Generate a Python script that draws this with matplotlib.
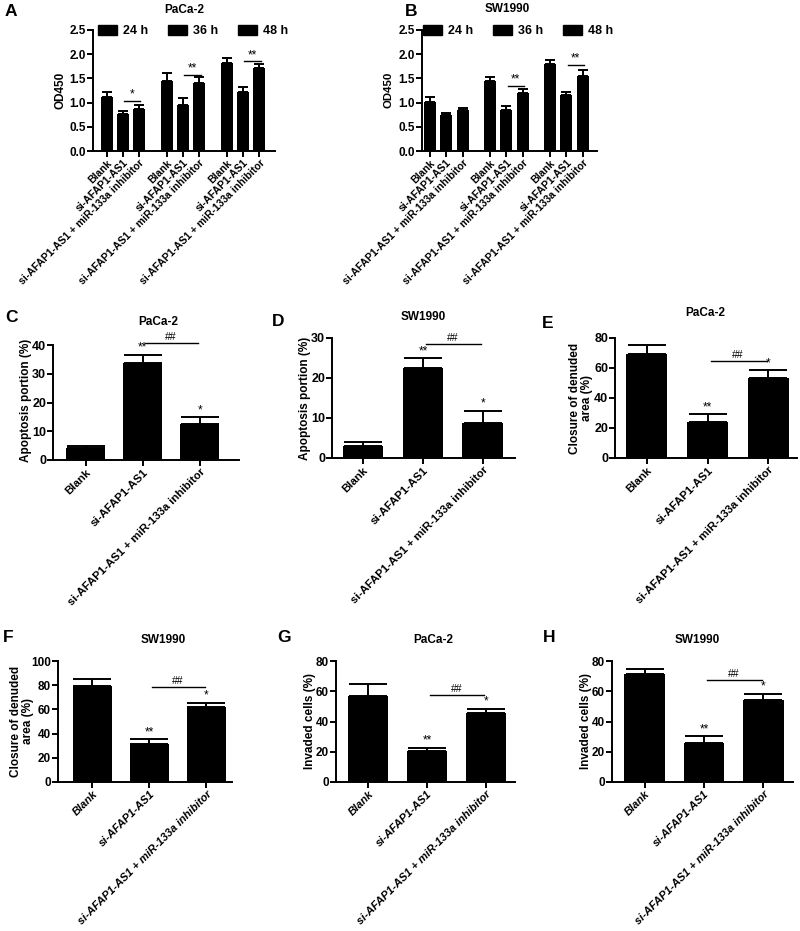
import matplotlib
matplotlib.use("Agg")
import matplotlib.pyplot as plt
from matplotlib.patches import Patch
import numpy as np

plt.rcParams['font.family'] = ['Liberation Sans', 'DejaVu Sans']
plt.rcParams['font.weight'] = 'bold'

W, H = 800, 931
fig = plt.figure(figsize=(W / 100, H / 100), dpi=100)

conds = ["Blank", "si-AFAP1-AS1", "si-AFAP1-AS1 + miR-133a inhibitor"]
times = ["24 h", "36 h", "48 h"]

# Panel A (PaCa-2, OD450) - rows: time groups, cols: conditions
a_vals = [[1.11, 0.755, 0.865], [1.45, 0.955, 1.415], [1.82, 1.22, 1.72]]
a_errs = [[0.11, 0.065, 0.09], [0.16, 0.15, 0.105], [0.10, 0.10, 0.08]]
a_sig = [("*", 1.04), ("**", 1.58), ("**", 1.85)]
# Panel B (SW1990, OD450)
b_vals = [[1.02, 0.745, 0.84], [1.456, 0.84, 1.20], [1.80, 1.16, 1.55]]
b_errs = [[0.10, 0.05, 0.045], [0.065, 0.08, 0.08], [0.07, 0.055, 0.125]]
b_sig = [None, ("**", 1.35), ("**", 1.785)]

# Three-bar panels
c_vals, c_errs, c_hash = [4.1, 33.8, 12.4], [0.9, 2.7, 2.4], 40.8
d_vals, d_errs, d_hash = [3.1, 22.5, 8.75], [0.9, 2.4, 3.05], 28.5
e_vals, e_errs, e_hash = [69.6, 24.0, 53.6], [5.5, 5.1, 4.8], 64.7
f_vals, f_errs, f_hash = [79.0, 31.8, 61.8], [6.0, 3.6, 3.6], 78.5
g_vals, g_errs, g_hash = [56.8, 20.5, 45.3], [8.0, 2.0, 3.0], 57.6
h_vals, h_errs, h_hash = [71.3, 25.5, 54.0], [3.5, 4.8, 4.3], 67.2

LW = 1.4


def add_ax(x0, x1, ytop, ybot):
    return fig.add_axes([x0 / W, 1 - ybot / H, (x1 - x0) / W, (ybot - ytop) / H])


def ftext(x, y, s, **kw):
    fig.text(x / W, 1 - y / H, s, **kw)


def style(ax, ylim, yticks, fmt, ytick_fs):
    for s in ["top", "right"]:
        ax.spines[s].set_visible(False)
    for s in ["left", "bottom"]:
        ax.spines[s].set_linewidth(LW)
    ax.set_ylim(*ylim)
    ax.set_yticks(yticks)
    ax.set_yticklabels([fmt.format(v) for v in yticks], fontsize=ytick_fs, fontweight='bold')
    ax.tick_params(axis='both', direction='out', length=4, width=LW, pad=1.0)


def grouped(ax, vals, errs, sigs, ylim_top, xl):
    off = 0.27
    w = 0.2
    xs, labels = [], []
    for g in range(3):
        for k in range(3):
            x = g + (k - 1) * off
            ax.bar(x, vals[g][k], width=w, color='black', zorder=2)
            ax.errorbar(x, vals[g][k], yerr=[[0], [errs[g][k]]], fmt='none',
                        ecolor='black', elinewidth=LW, capsize=3.5, capthick=LW, zorder=1)
            xs.append(x)
            labels.append(conds[k])
        if sigs[g] is not None:
            mark, yl = sigs[g]
            ax.plot([g + 0.02, g + off + 0.02], [yl, yl], color='black', lw=1.0, clip_on=False)
            ax.text(g + off / 2 + 0.02, yl, mark, ha='center', va='bottom', fontsize=8.5,
                    fontweight='normal')
    ax.set_xticks(xs)
    ax.set_xticklabels(labels, rotation=45, ha='right', rotation_mode='anchor',
                       fontsize=7.5, fontweight='bold')
    ax.set_xlim(*xl)
    style(ax, (0, ylim_top), np.arange(0, 2.51, 0.5), "{:.1f}", 8.5)
    handles = [Patch(facecolor='black', edgecolor='black', label=t) for t in times]
    ax.legend(handles=handles, ncol=3, loc='center', bbox_to_anchor=(0.55, 0.99),
              frameon=False, handlelength=1.5, handleheight=0.85,
              columnspacing=1.6, handletextpad=0.5, prop={'weight': 'bold', 'size': 9})


def three(ax, vals, errs, hash_y, ymax, step, italic, tick_fs, lab_fs, xl, cap=14):
    xs = np.arange(3)
    ax.bar(xs, vals, width=0.68, color='black', zorder=2)
    ax.errorbar(xs, vals, yerr=[np.zeros(3), errs], fmt='none', ecolor='black',
                elinewidth=LW, capsize=cap, capthick=LW, zorder=1)
    ax.set_xticks(xs)
    ax.set_xticklabels(conds, rotation=45, ha='right', rotation_mode='anchor',
                       fontsize=lab_fs, fontweight='bold',
                       fontstyle='italic' if italic else 'normal')
    ax.set_xlim(*xl)
    style(ax, (0, ymax), np.arange(0, ymax + 0.1, step), "{:.0f}", tick_fs)
    span = ymax
    ax.text(1, vals[1] + errs[1] + 0.01 * span, "**", ha='center', va='bottom',
            fontsize=8.5, fontweight='normal')
    ax.text(2, vals[2] + errs[2] + 0.01 * span, "*", ha='center', va='bottom',
            fontsize=8.5, fontweight='normal')
    ax.plot([1.05, 1.97], [hash_y, hash_y], color='black', lw=1.0, clip_on=False)
    ax.text(1.5, hash_y + 0.01 * span, "##", ha='center', va='bottom', fontsize=7.5,
            fontweight='normal')


# ---------- Row 1 ----------
axA = add_ax(93, 275, 30, 151)
grouped(axA, a_vals, a_errs, a_sig, 2.5, (-0.5, 2.53))
axB = add_ax(422, 597, 30, 151)
grouped(axB, b_vals, b_errs, b_sig, 2.5, (-0.405, 2.51))

# ---------- Row 2 ----------
axC = add_ax(53, 239, 345, 460)
three(axC, c_vals, c_errs, c_hash, 40, 10, False, 9, 8.2, (-0.57, 2.69))
axD = add_ax(332, 515, 338, 458)
three(axD, d_vals, d_errs, d_hash, 30, 10, False, 9, 8.2, (-0.52, 2.54))
axE = add_ax(615, 797, 338, 458)
three(axE, e_vals, e_errs, e_hash, 80, 20, False, 9, 8.2, (-0.52, 2.47))

# ---------- Row 3 ----------
axF = add_ax(58, 232, 661, 782)
three(axF, f_vals, f_errs, f_hash, 100, 20, True, 8.5, 8.0, (-0.6, 2.45))
axG = add_ax(336, 515, 661, 782)
three(axG, g_vals, g_errs, g_hash, 80, 20, True, 8.5, 8.0, (-0.55, 2.5))
axH = add_ax(612, 793, 661, 782)
three(axH, h_vals, h_errs, h_hash, 80, 20, True, 8.5, 8.0, (-0.55, 2.5))

# Panel letters
for letter, x, y in [("A", 5, 12), ("B", 405, 12), ("C", 5, 318), ("D", 272, 322),
                     ("E", 542, 323), ("F", 3, 637), ("G", 277, 637), ("H", 543, 637)]:
    ftext(x, y, letter, fontsize=12.5, fontweight='bold', ha='left', va='center')

# Titles
for t, x, y in [("PaCa-2", 184, 10), ("SW1990", 507, 9), ("PaCa-2", 158, 322),
                ("SW1990", 423, 317), ("PaCa-2", 705, 313), ("SW1990", 163, 640),
                ("PaCa-2", 433, 640), ("SW1990", 697, 640)]:
    ftext(x, y, t, fontsize=8.5, fontweight='bold', ha='center', va='center')

# Y labels
for t, x, y, fs in [("OD450", 61, 90, 8.5), ("OD450", 389, 90, 8.2),
                    ("Apoptosis portion (%)", 26, 400, 8.5),
                    ("Apoptosis portion (%)", 305, 398, 8.5),
                    ("Closure of denuded\narea (%)", 581, 398, 8.5),
                    ("Closure of denuded\narea (%)", 22, 721, 8.5),
                    ("Invaded cells (%)", 310, 721, 8.5),
                    ("Invaded cells (%)", 586, 721, 8.5)]:
    ftext(x, y, t, fontsize=fs, fontweight='bold', ha='center', va='center',
          rotation=90, linespacing=1.0)

fig.savefig("out.png", dpi=100)
